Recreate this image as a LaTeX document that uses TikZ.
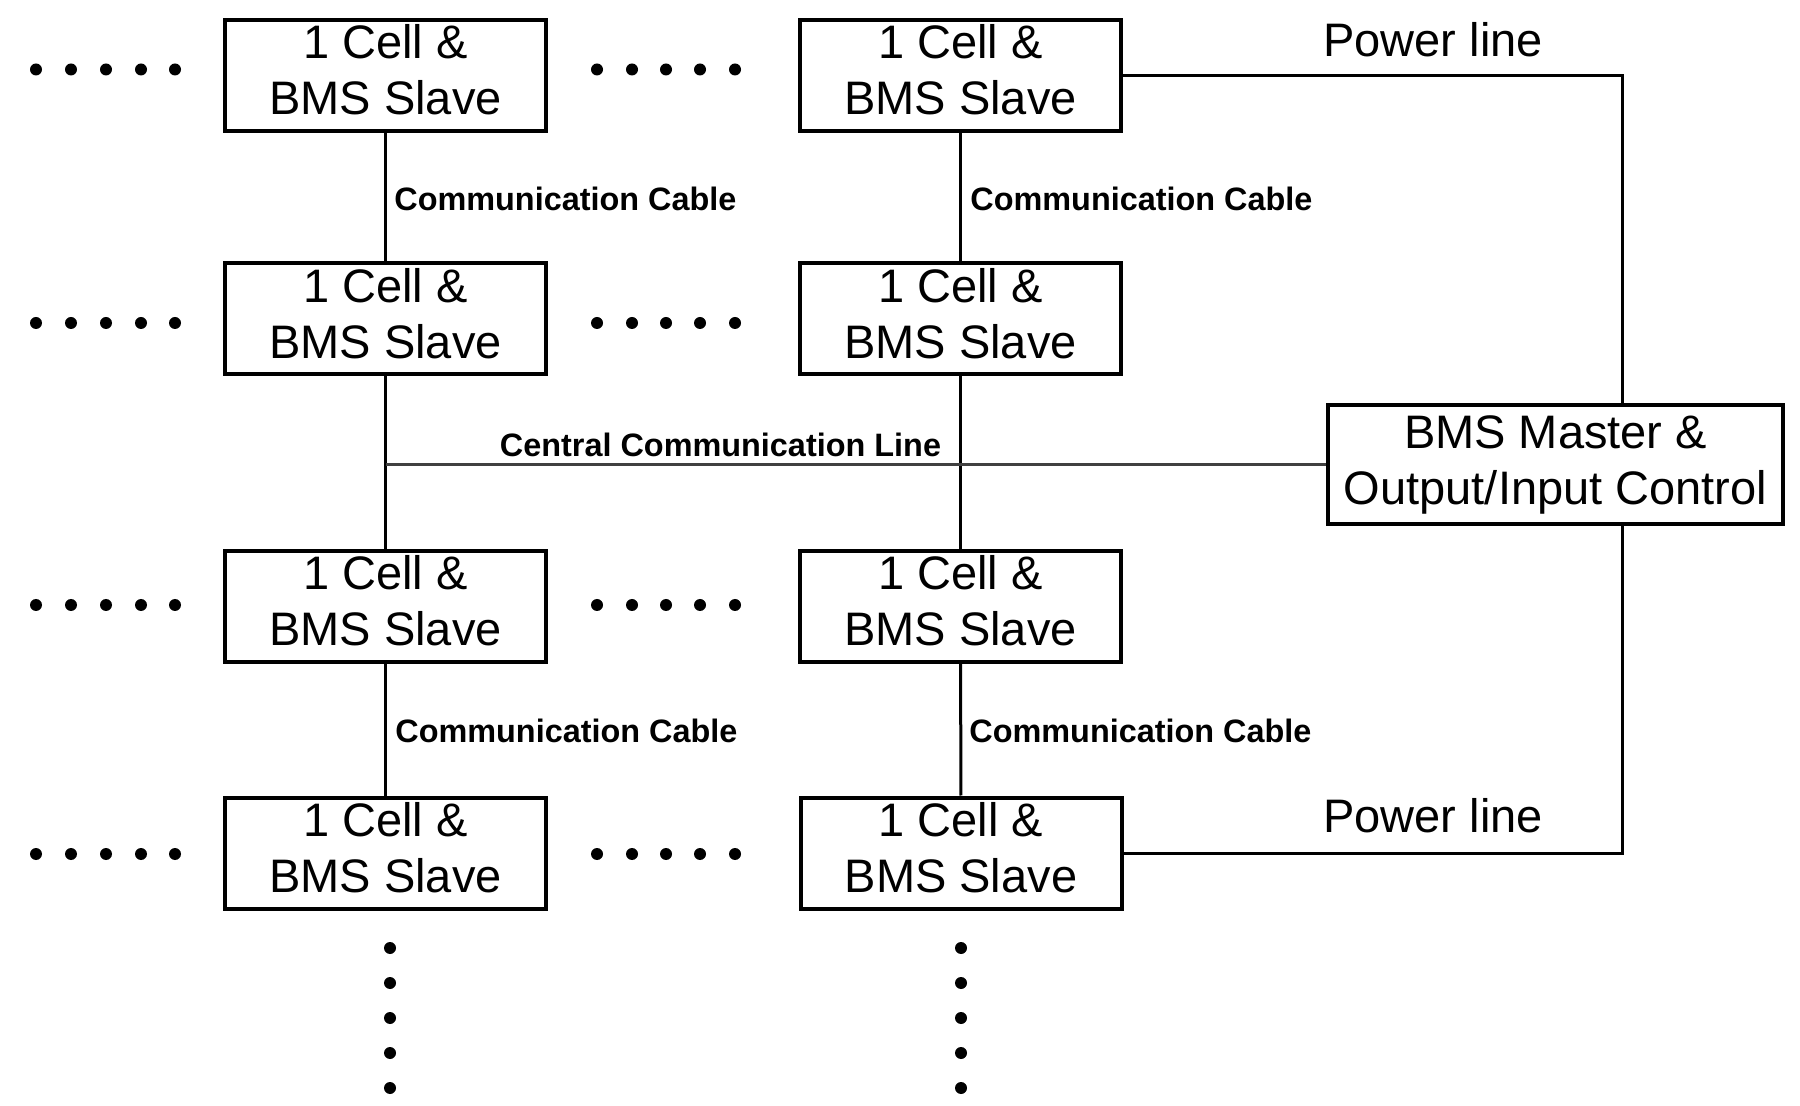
\documentclass[tikz,border=0pt]{standalone}
\usepackage{fontspec}
\setmainfont{Liberation Sans}
\newcommand\slvdepth{\rule[-6pt]{0pt}{0pt}}
\begin{document}
\begin{tikzpicture}[x=0.5pt,y=-0.5pt,
  slave/.style={draw,line width=2pt,minimum width=160.5pt,minimum height=55.5pt,inner sep=0pt,align=center,font=\fontsize{23.5}{28}\selectfont},
  master/.style={draw,line width=2pt,minimum width=227.5pt,minimum height=59.5pt,inner sep=0pt,align=center,font=\fontsize{23.5}{28}\selectfont},
  ln/.style={line width=1.5pt},
  cline/.style={line width=1.5pt,draw=black!75},
  lab/.style={font=\bfseries\fontsize{16.2}{19}\selectfont,inner sep=0pt},
  pw/.style={font=\fontsize{23.5}{28}\selectfont,inner sep=0pt,anchor=base west}]
\path[use as bounding box,fill=white] (0,0) rectangle (1800,1106);
% slave boxes
\node[slave] (s11) at (385.5,75.5) {1 Cell \&\\BMS Slave\slvdepth};
\node[slave] (s21) at (385.5,319) {1 Cell \&\\BMS Slave\slvdepth};
\node[slave] (s31) at (385.5,606.5) {1 Cell \&\\BMS Slave\slvdepth};
\node[slave] (s41) at (385.5,853) {1 Cell \&\\BMS Slave\slvdepth};
\node[slave] (s12) at (960.5,75.5) {1 Cell \&\\BMS Slave\slvdepth};
\node[slave] (s22) at (960.5,319) {1 Cell \&\\BMS Slave\slvdepth};
\node[slave] (s32) at (960.5,606.5) {1 Cell \&\\BMS Slave\slvdepth};
\node[slave] (s42) at (961,853) {1 Cell \&\\BMS Slave\slvdepth};
% master
\node[master] (m) at (1555.5,464.5) {BMS Master \&\\Output/Input Control};
% communication cables
\draw[ln] (s11) -- (s21);
\draw[ln] (s21) -- (s31);
\draw[ln] (s31) -- (s41);
\draw[ln] (s12) -- (s22);
\draw[ln] (s22) -- (s32);
\draw[ln] (s32) -- (s42);
% central line
\draw[cline] (s21.south |- m.west) -- (m.west);
% power lines
\coordinate (ptop) at (1622,75.5);
\coordinate (pbot) at (1622,853);
\draw[ln] (s12.east) -- (ptop) -- (ptop |- m.north);
\draw[ln] (m.south -| pbot) -- (pbot) -- (s42.east);
% labels
\node[lab,anchor=west] (c1) at (394,199) {Communication Cable};
\node[lab,anchor=west] (c2) at (970,199) {Communication Cable};
\node[lab,anchor=west] (c3) at (395,731) {Communication Cable};
\node[lab,anchor=west] (c4) at (969,731) {Communication Cable};
\node[lab] (ccl) at (720.5,445) {Central Communication Line};
\node[pw] (p1) at (1323,57) {Power line};
\node[pw] (p2) at (1323,832) {Power line};
% dots
\foreach \y in {69.5,323,605,854}
  \foreach \x in {36,71,106,141,175,597,632,666,700,735}
    \fill (\x,\y) circle[radius=3pt];
\foreach \x in {390,961}
  \foreach \y in {948,983,1018,1053,1088}
    \fill (\x,\y) circle[radius=3pt];
\end{tikzpicture}
\end{document}
